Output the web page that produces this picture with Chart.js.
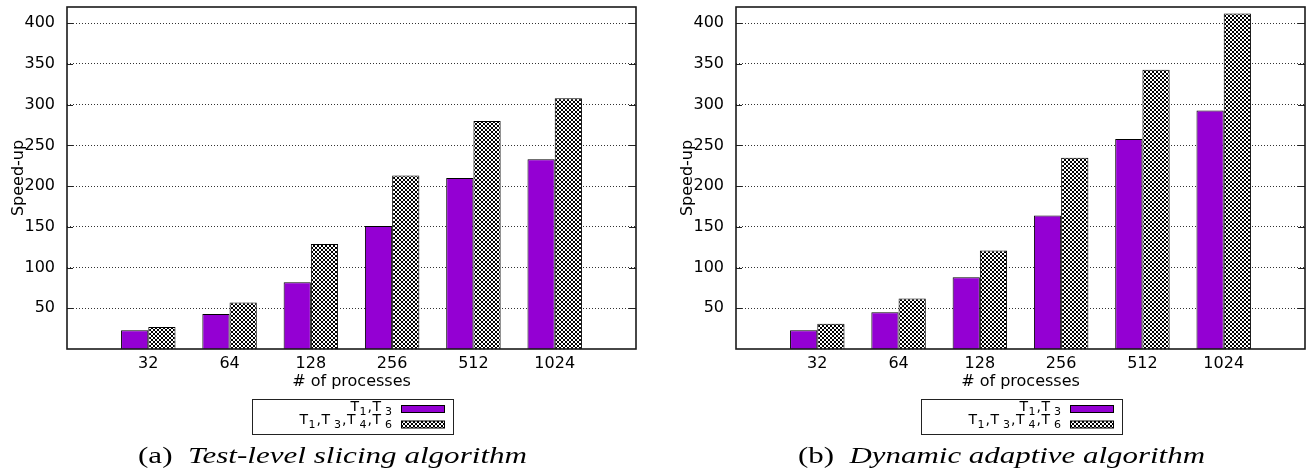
<!DOCTYPE html>
<html>
<head>
<meta charset="utf-8">
<script src="https://cdn.jsdelivr.net/npm/chart.js@4.4.0/dist/chart.umd.min.js"></script>
<style>
  body { margin: 0; background: #fff; width: 1310px; height: 473px; position: relative; overflow: hidden; }
  canvas { position: absolute; top: 0; }
  #graficoA { left: 0; }
  #graficoB { left: 669px; }
  .caption { position: absolute; top: 442px; white-space: nowrap; transform-origin: 0 0;
    font-family: "Liberation Serif", serif; font-size: 24px; line-height: 26px; color: #000; }
</style>
</head>
<body>
<canvas id="graficoA" width="641" height="473"></canvas>
<canvas id="graficoB" width="641" height="473"></canvas>
<div class="caption" id="capA" style="left:138px">(a)&nbsp;&nbsp;<i>Test-level slicing algorithm</i></div>
<div class="caption" id="capB" style="left:798px">(b)&nbsp;&nbsp;<i>Dynamic adaptive algorithm</i></div>
<script>
// datos
const procesos = ['32', '64', '128', '256', '512', '1024'];
const nombresSeries = ['T_1,T_3', 'T_1,T_3,T_4,T_6'];
const slicingT13 = [23, 43, 82, 151, 210, 233];
const slicingT1346 = [27, 57, 129, 213, 280, 308];
const adaptiveT13 = [23, 45, 88, 164, 258, 293];
const adaptiveT1346 = [31, 62, 121, 235, 343, 412];
const ticksY = [50, 100, 150, 200, 250, 300, 350, 400];

const morado = '#9400d3';

function crearPatron() {
  const c = document.createElement('canvas');
  c.width = 4;
  c.height = 4;
  const cx = c.getContext('2d');
  cx.fillStyle = '#fff';
  cx.fillRect(0, 0, 4, 4);
  cx.fillStyle = '#000';
  for (let i = 0; i < 4; i++) {
    cx.fillRect(i, i, 1, 1);
    cx.fillRect(3 - i, i, 1, 1);
  }
  return cx.createPattern(c, 'repeat');
}
const patron = crearPatron();

// texto con subindices tipo gnuplot: T_1,T_3
function partesEtiqueta(texto) {
  const partes = [];
  let primero = true;
  for (let i = 0; i < texto.length; i++) {
    if (texto[i] === '_') {
      partes.push({ t: (primero ? '' : ' ') + texto[i + 1], sub: true });
      primero = false;
      i++;
    } else {
      partes.push({ t: texto[i], sub: false });
    }
  }
  return partes;
}

function dibujarEtiqueta(ctx, texto, xDerecha, yBase) {
  const partes = partesEtiqueta(texto);
  const fNormal = '14px "DejaVu Sans"';
  const fSub = '11px "DejaVu Sans"';
  let ancho = 0;
  partes.forEach(p => {
    ctx.font = p.sub ? fSub : fNormal;
    p.w = ctx.measureText(p.t).width + (p.sub ? 1 : 0.5);
    ancho += p.w;
  });
  let x = xDerecha - ancho;
  ctx.fillStyle = '#000';
  ctx.textAlign = 'left';
  ctx.textBaseline = 'alphabetic';
  partes.forEach(p => {
    ctx.font = p.sub ? fSub : fNormal;
    ctx.fillText(p.t, x, p.sub ? yBase + 4 : yBase);
    x += p.w;
  });
}

const marcoPlugin = {
  id: 'marco',
  afterDraw(chart) {
    const ctx = chart.ctx;
    const a = chart.chartArea;
    const y = chart.scales.y;
    ctx.save();
    // marcas hacia dentro
    ctx.strokeStyle = '#222';
    ctx.lineWidth = 1;
    ctx.beginPath();
    ticksY.forEach(v => {
      const py = Math.round(y.getPixelForValue(v)) + 0.5;
      ctx.moveTo(a.left, py);
      ctx.lineTo(a.left + 6, py);
      ctx.moveTo(a.right - 7, py);
      ctx.lineTo(a.right, py);
    });
    ctx.stroke();
    // borde
    ctx.strokeStyle = '#1a1a1a';
    ctx.lineWidth = 1.6;
    ctx.strokeRect(a.left, a.top, a.right - a.left, a.bottom - a.top);

    // leyenda
    ctx.lineWidth = 1;
    ctx.strokeStyle = '#222';
    ctx.strokeRect(252.5, 399.5, 201, 35);
    const filas = [
      { yb: 411, ry: 405.5, fill: morado },
      { yb: 424, ry: 421, fill: patron }
    ];
    filas.forEach((f, i) => {
      dibujarEtiqueta(ctx, nombresSeries[i], 393, f.yb);
      ctx.fillStyle = f.fill;
      ctx.fillRect(401.5, f.ry, 43, 7);
      ctx.strokeStyle = '#000';
      ctx.strokeRect(401.5, f.ry, 43, 7);
    });
    ctx.restore();
  }
};

function crearGrafico(id, datos1, datos2) {
  const ctx = document.getElementById(id).getContext('2d');
  const etiquetas = [''].concat(procesos, ['']);

  return new Chart(ctx, {
    type: 'bar',
    data: {
      labels: etiquetas,
      datasets: [{
        label: nombresSeries[0],
        data: [null].concat(datos1, [null]),
        backgroundColor: morado,
        borderColor: '#000',
        borderWidth: 1
      }, {
        label: nombresSeries[1],
        data: [null].concat(datos2, [null]),
        backgroundColor: patron,
        borderColor: '#000',
        borderWidth: 1
      }]
    },
    options: {
      responsive: false,
      animation: false,
      devicePixelRatio: 1,
      categoryPercentage: 0.67,
      barPercentage: 1,
      layout: { padding: { top: 7, right: 2, bottom: 82, left: 0 } },
      plugins: {
        legend: { display: false },
        tooltip: { enabled: false }
      },
      scales: {
        x: {
          offset: false,
          grid: { display: false, drawTicks: false, tickLength: 0 },
          border: { display: false },
          ticks: {
            color: '#000',
            font: { family: 'DejaVu Sans', size: 16 },
            padding: 5,
            maxRotation: 0,
            autoSkip: false
          },
          title: {
            display: true,
            text: '# of processes',
            color: '#000',
            font: { family: 'DejaVu Sans', size: 16 },
            padding: { top: 0, bottom: 0 }
          },
          afterFit: scale => { scale.height = 42; }
        },
        y: {
          min: 0,
          max: 420,
          afterBuildTicks: scale => {
            scale.ticks = ticksY.map(v => ({ value: v }));
          },
          grid: {
            color: '#333',
            lineWidth: 1,
            drawTicks: false
          },
          border: { display: false, dash: [1, 2] },
          ticks: {
            color: '#000',
            font: { family: 'DejaVu Sans', size: 16 },
            padding: 12
          },
          title: {
            display: true,
            text: 'Speed-up',
            color: '#000',
            font: { family: 'DejaVu Sans', size: 16 },
            padding: { top: 9, bottom: 0 }
          },
          afterFit: scale => {
            scale.width = 67;
            scale.paddingTop = 0;
            scale.paddingBottom = 0;
          }
        }
      }
    },
    plugins: [marcoPlugin]
  });
}

crearGrafico('graficoA', slicingT13, slicingT1346);
crearGrafico('graficoB', adaptiveT13, adaptiveT1346);

// ajustar ancho de los pies de figura
[['capA', 389], ['capB', 407]].forEach(([id, ancho]) => {
  const el = document.getElementById(id);
  const w = el.getBoundingClientRect().width;
  el.style.transform = 'scaleX(' + (ancho / w) + ')';
});
</script>
</body>
</html>
